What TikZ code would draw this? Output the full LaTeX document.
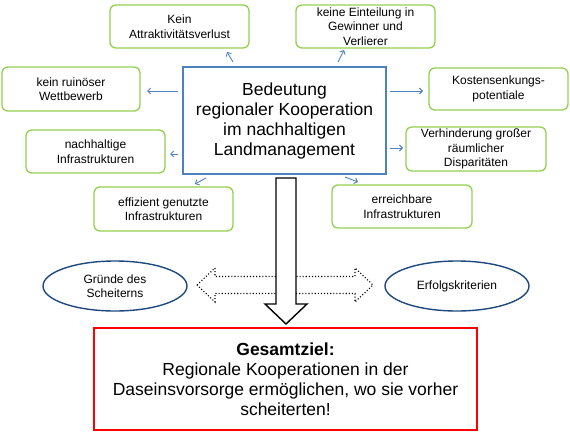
\documentclass[tikz,border=0pt]{standalone}
\usepackage{fontspec}
\setmainfont{Liberation Sans}
\usepackage{tikz}
\usetikzlibrary{shapes.geometric, arrows.meta, positioning, calc}
\definecolor{boxgreen}{HTML}{92D050}
\definecolor{boxblue}{HTML}{4F81BD}
\definecolor{ovalblue}{HTML}{1F497D}
\definecolor{goalred}{HTML}{FF0000}

\begin{document}
\begin{tikzpicture}[
    x=1pt, y=-1pt,
    every node/.style={font=\fontsize{12}{14.5}\selectfont, inner sep=1pt, outer sep=0pt},
    aspect/.style={draw=boxgreen, rounded corners=6pt, minimum width=139pt, minimum height=43pt, align=center, line width=1.3pt},
    core/.style={draw=boxblue, line width=1.6pt, minimum width=203pt, minimum height=107pt, align=center, font=\fontsize{17.5}{20}\selectfont},
    oval/.style={ellipse, draw=ovalblue, line width=1.4pt, minimum width=144pt, minimum height=50pt, align=center},
    goalbox/.style={draw=goalred, line width=1.4pt, minimum width=383pt, minimum height=102pt, align=center, font=\fontsize{17.5}{20}\selectfont},
    link/.style={-{Straight Barb[length=3pt,width=6pt]}, boxblue, line width=0.9pt}
]
    \useasboundingbox (0,0) rectangle (570,431);

    % centre and the aspects around it
    \node[core] (core) at (284.5,120.5) {Bedeutung\\regionaler Kooperation\\im nachhaltigen\\Landmanagement};

    \node[aspect] (attr) at (179.5,26.5) {Kein\\Attraktivitätsverlust};
    \node[aspect] (teil) at (365.5,26.5) {keine Einteilung in\\Gewinner und\\Verlierer};
    \node[aspect, minimum width=138pt, minimum height=44pt] (ruin) at (71,89) {kein ruinöser\\Wettbewerb};
    \node[aspect, minimum height=42pt] (kost) at (498.5,89) {Kostensenkungs-\\potentiale};
    \node[aspect] (nach) at (95.5,151.5) {nachhaltige\\Infrastrukturen};
    \node[aspect, minimum width=140pt, minimum height=44pt] (verh) at (476,149) {Verhinderung großer\\räumlicher\\Disparitäten};
    \node[aspect, minimum height=44pt] (eff) at (163.5,209) {effizient genutzte\\Infrastrukturen};
    \node[aspect, minimum width=140pt] (erre) at (402,206.5) {erreichbare\\Infrastrukturen};

    \draw[link] ([xshift=-51.5pt,yshift=5pt]core.north) -- ([xshift=47.5pt,yshift=-4pt]attr.south);
    \draw[link] ([xshift=53.5pt,yshift=5pt]core.north) -- ([xshift=-21.5pt,yshift=-2pt]teil.south);
    \draw[link] ([xshift=-5pt,yshift=29.5pt]core.west) -- ([xshift=7pt,yshift=-2pt]ruin.east);
    \draw[link] ([xshift=-5pt,yshift=-33.5pt]core.west) -- ([xshift=5pt,yshift=-2.5pt]nach.east);
    \draw[link] ([xshift=-78.5pt,yshift=-4pt]core.south) -- ([xshift=31.5pt,yshift=3pt]eff.north);
    \draw[link] ([xshift=4pt,yshift=29.5pt]core.east) -- ([xshift=-6pt,yshift=-2pt]kost.west);
    \draw[link] ([xshift=4pt,yshift=-27.5pt]core.east) -- ([xshift=-3pt,yshift=1pt]verh.west);
    \draw[link] ([xshift=60.5pt,yshift=-3pt]core.south) -- ([xshift=-44pt,yshift=3pt]erre.north);

    % lower part
    \node[oval] (gruende) at (115,286) {Gründe des\\Scheiterns};
    \node[oval] (erfolg) at (457,286) {Erfolgskriterien};
    \node[goalbox] (ziel) at (285.5,379) {\textbf{Gesamtziel:}\\Regionale Kooperationen in der\\Daseinsvorsorge ermöglichen, wo sie vorher\\scheiterten!};

    \draw[dotted, line width=1.1pt] ([xshift=10pt,yshift=1pt]gruende.east) -- ++(18,-17) -- ++(0,8.5) -- ++(140,0) -- ++(0,-8.5)
        -- ++(18,17) -- ++(-18,17) -- ++(0,-8.5) -- ++(-140,0) -- ++(0,8.5) -- cycle;

    \draw[fill=white, line width=1.4pt] ([xshift=-8.5pt,yshift=-4pt]core.south) -- ++(20,0) -- ++(0,126) -- ++(11,0)
        -- ++(-21,20) -- ++(-21,-20) -- ++(11,0) -- cycle;
\end{tikzpicture}
\end{document}
